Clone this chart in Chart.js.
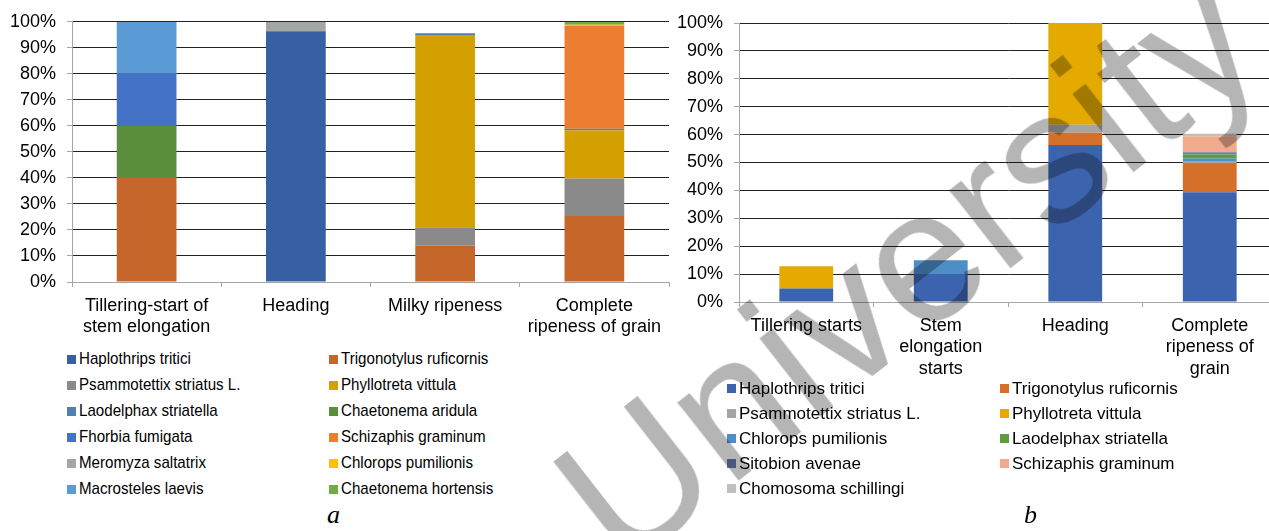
<!DOCTYPE html>
<html>
<head>
<meta charset="utf-8">
<script src="https://cdn.jsdelivr.net/npm/chart.js@4"></script>
<style>
  html, body { margin: 0; padding: 0; background: #fff; overflow: hidden; }
  body { width: 1269px; height: 531px; position: relative; font-family: "Liberation Sans", Arial, sans-serif; }
  canvas { position: absolute; }
  #chartA { left: 0; top: 0; }
  #chartB { left: 670px; top: 0; }
  .legend { position: absolute; display: grid; color: #000; }
  .legend div { white-space: nowrap; display: flex; align-items: center; }
  .legend span.box { display: inline-block; width: 9px; height: 9px; margin-right: 3px; flex: none; }
  #legendA { left: 67px; top: 346px; grid-template-columns: 262px 262px; grid-auto-rows: 26px; font-size: 17px; }
  #legendA span.txt { display: inline-block; transform: scaleX(0.89); transform-origin: 0 50%; }
  #legendB { left: 727px; top: 376px; grid-template-columns: 273px 273px; grid-auto-rows: 25px; font-size: 17px; }
  .caption { position: absolute; font-family: "Liberation Serif", "Times New Roman", serif; font-style: italic; font-size: 26px; color: #000; }
  #mark { position: absolute; left: 622px; top: 412px; line-height: 190px; height: 190px; font-size: 188px;
          transform-origin: 0 161px; transform: rotate(-38deg); color: #b5b5b5; mix-blend-mode: multiply;
          white-space: nowrap; pointer-events: none; }
</style>
</head>
<body>
<canvas id="chartA" width="680" height="345"></canvas>
<canvas id="chartB" width="620" height="380"></canvas>
<div id="legendA" class="legend"></div>
<div id="legendB" class="legend"></div>
<div class="caption" style="left:327px; top:500px;">a</div>
<div class="caption" style="left:1024px; top:500px;">b</div>
<div id="mark">University</div>
<script>
// chart a: categories and shares (%) of each species
var catsA = [['Tillering-start of', 'stem elongation'], 'Heading', 'Milky ripeness', ['Complete', 'ripeness of grain']];
var namesA = ['Haplothrips tritici', 'Trigonotylus ruficornis', 'Psammotettix striatus L.', 'Phyllotreta vittula',
  'Laodelphax striatella', 'Chaetonema aridula', 'Fhorbia fumigata', 'Schizaphis graminum',
  'Meromyza saltatrix', 'Chlorops pumilionis', 'Macrosteles laevis', 'Chaetonema hortensis'];
var haplothripsA = [null, 96.4, null, null];
var trigonotylusA = [40, null, 14, 25.4];
var psammotettixA = [null, null, 7, 14.4];
var phyllotretaA = [null, null, 73.9, 18.5];
var laodelphaxA = [null, null, 0.7, 0.6];
var chaetAridulaA = [20, null, null, null];
var fhorbiaA = [20, null, null, null];
var schizaphisA = [null, null, null, 39.5];
var meromyzaA = [null, 3.6, null, null];
var chloropsA = [null, null, null, 0.5];
var macrostelesA = [20, null, null, null];
var chaetHortensisA = [null, null, null, 1.1];
var colorsA = ['#365FA4', '#C5662A', '#8A8A8A', '#D4A000', '#4E80B5', '#5A8E3A',
  '#4472C4', '#ED7D31', '#A5A5A5', '#FFC000', '#5B9BD5', '#70AD47'];

// chart b
var catsB = ['Tillering starts', ['Stem', 'elongation', 'starts'], 'Heading', ['Complete', 'ripeness of', 'grain']];
var namesB = ['Haplothrips tritici', 'Trigonotylus ruficornis', 'Psammotettix striatus L.', 'Phyllotreta vittula',
  'Chlorops pumilionis', 'Laodelphax striatella', 'Sitobion avenae', 'Schizaphis graminum', 'Chomosoma schillingi'];
var haplothripsB = [4.8, 10, 56.3, 39.3];
var trigonotylusB = [null, null, 4.4, 10.5];
var psammotettixB = [null, null, 2.8, 0.7];
var phyllotretaB = [8.0, null, 36.5, null];
var chloropsB = [null, 5, null, 0.9];
var laodelphaxB = [null, null, null, 1.5];
var sitobionB = [null, null, null, 0.8];
var schizaphisB = [null, null, null, 5.7];
var chomosomaB = [null, null, null, 0.9];
var colorsB = ['#3C64AE', '#D5702B', '#A5A5A5', '#E5AA00', '#4D8DC8', '#5F9B3F', '#6A7BAE', '#F2AA8C', '#BFBFBF'];

var valuesA = [haplothripsA, trigonotylusA, psammotettixA, phyllotretaA, laodelphaxA, chaetAridulaA,
  fhorbiaA, schizaphisA, meromyzaA, chloropsA, macrostelesA, chaetHortensisA];
var valuesB = [haplothripsB, trigonotylusB, psammotettixB, phyllotretaB, chloropsB, laodelphaxB,
  sitobionB, schizaphisB, chomosomaB];

Chart.defaults.font.family = '"Liberation Sans", Arial, sans-serif';
Chart.defaults.color = '#000';

function makeChart(id, cats, names, values, colors, axisW, axisH, padTop, padRight) {
  var datasets = names.map(function(n, i) {
    return { label: n, data: values[i], backgroundColor: colors[i], borderWidth: 0,
      barPercentage: 0.4, categoryPercentage: 1 };
  });
  return new Chart(id, {
    type: 'bar',
    data: { labels: cats, datasets: datasets },
    options: {
      responsive: false,
      animation: false,
      layout: { padding: { top: padTop, right: padRight, left: 0, bottom: 0 } },
      plugins: { legend: { display: false }, tooltip: { enabled: false } },
      scales: {
        x: {
          stacked: true,
          grid: { drawOnChartArea: false, drawTicks: true, tickLength: 5, color: '#A6A6A6', offset: true },
          border: { color: '#A6A6A6', width: 1 },
          ticks: { font: { size: 18, lineHeight: 1.2 }, padding: 8, maxRotation: 0, autoSkip: false },
          afterFit: function(s) { s.height = axisH; }
        },
        y: {
          stacked: true,
          min: 0, max: 100,
          grid: {
            color: function(c) { return c.tick && c.tick.value === 0 ? '#A6A6A6' : '#222'; },
            tickColor: '#A6A6A6', tickLength: 5, lineWidth: 1
          },
          border: { color: '#A6A6A6', width: 1 },
          ticks: { stepSize: 10, font: { size: 18 }, padding: 11,
            callback: function(v) { return v + '%'; } },
          afterFit: function(s) { s.width = axisW; }
        }
      }
    }
  });
}

function fillLegend(el, chart) {
  chart.data.datasets.forEach(function(d) {
    var item = document.createElement('div');
    var box = document.createElement('span');
    box.className = 'box';
    box.style.background = d.backgroundColor;
    var txt = document.createElement('span');
    txt.className = 'txt';
    txt.textContent = d.label;
    item.appendChild(box);
    item.appendChild(txt);
    el.appendChild(item);
  });
}

var chartA = makeChart('chartA', catsA, namesA, valuesA, colorsA, 72, 63, 19, 11);
var chartB = makeChart('chartB', catsB, namesB, valuesB, colorsB, 69, 78, 23, 13);
fillLegend(document.getElementById('legendA'), chartA);
fillLegend(document.getElementById('legendB'), chartB);
</script>
</body>
</html>
